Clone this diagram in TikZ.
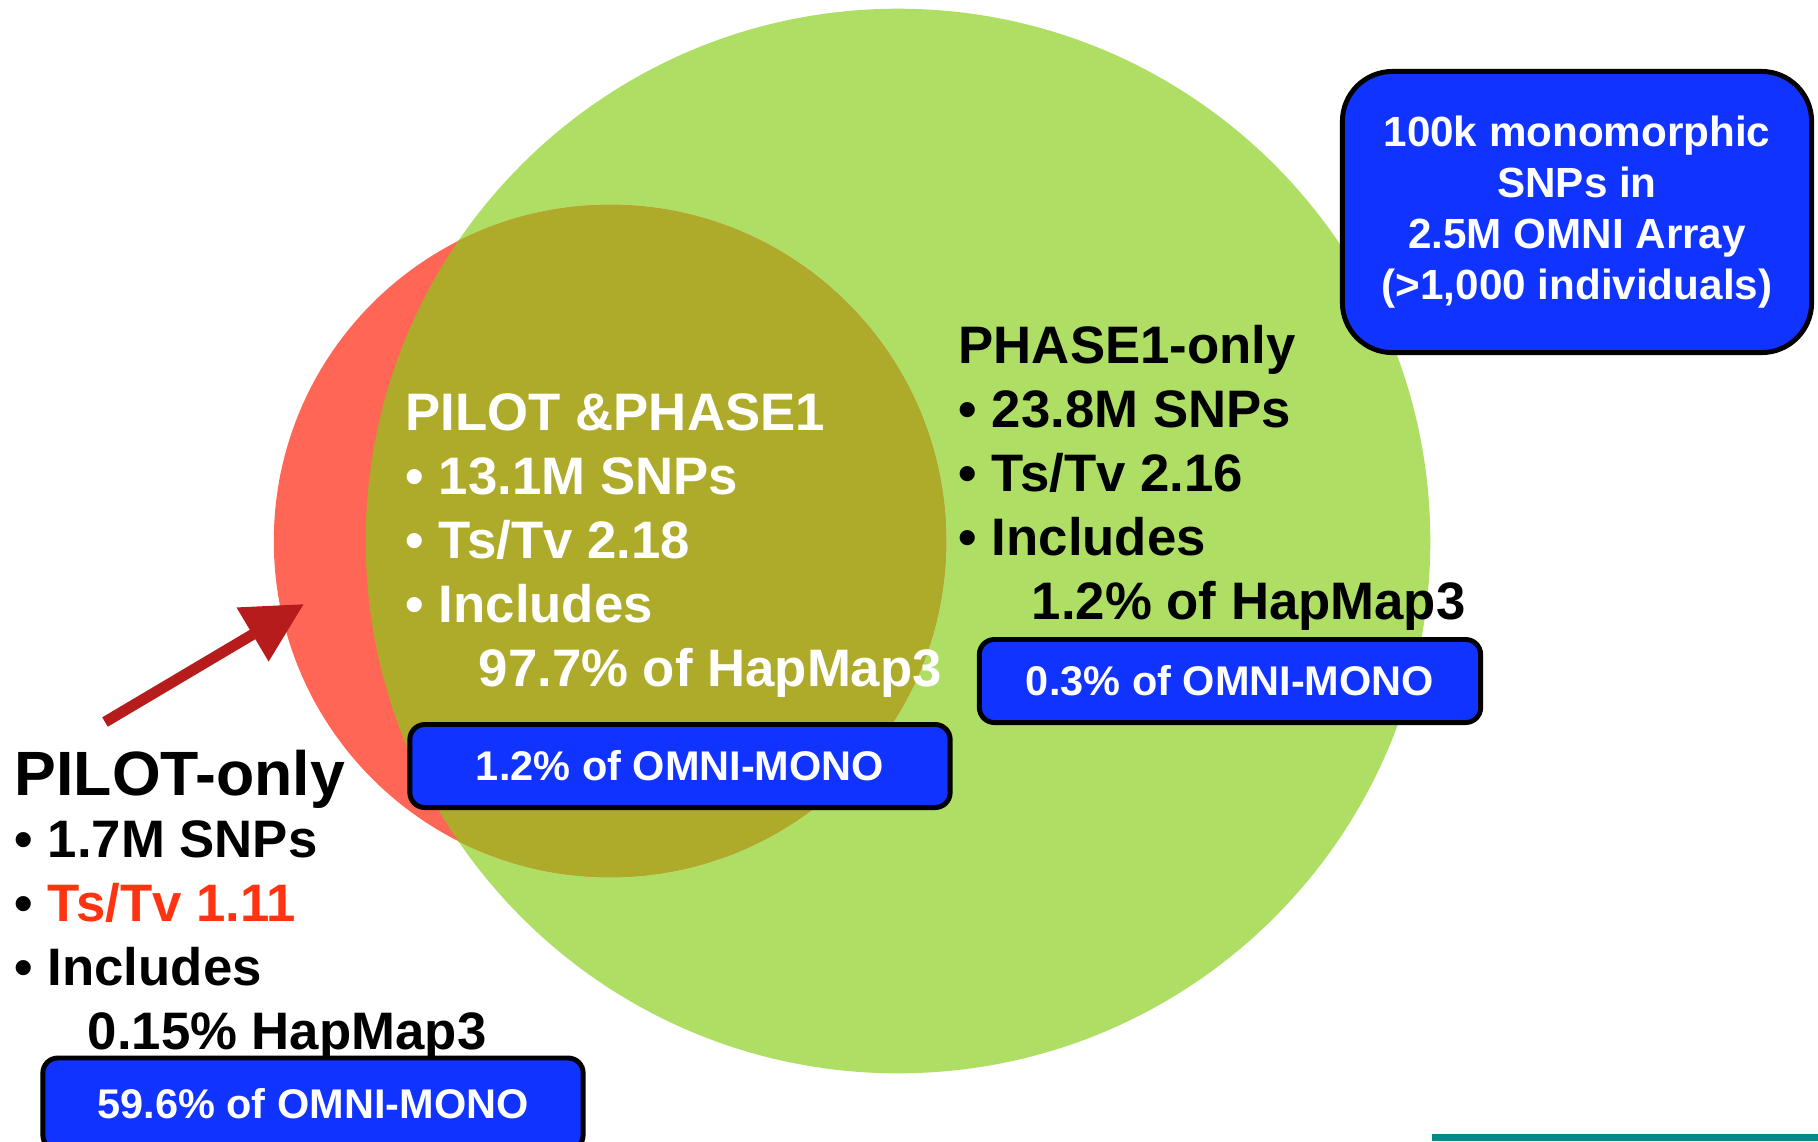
\documentclass[tikz,border=0pt]{standalone}
\usepackage{fontspec}
\setmainfont{Liberation Sans}
\usetikzlibrary{arrows.meta}
\definecolor{setgreen}{HTML}{AEDE64}
\definecolor{setred}{HTML}{FF6655}
\definecolor{setolive}{HTML}{AEAA2A}
\definecolor{omniblue}{HTML}{1133FF}
\definecolor{arrowred}{HTML}{B71C1C}
\definecolor{tsred}{HTML}{FF3311}
\definecolor{barteal}{HTML}{008B8B}

\begin{document}
\begin{tikzpicture}[
    x=0.01cm, y=-0.01cm,
    setlabel/.style={anchor=base west, inner sep=0pt, align=left,
                     font=\fontsize{15}{18.2}\selectfont\bfseries},
    monobox/.style={rectangle, draw=black, line width=1.4pt, fill=omniblue,
                    text=white, rounded corners=0.15cm, minimum width=5.4cm,
                    minimum height=0.83cm, font=\fontsize{11.8}{14}\selectfont\bfseries},
    arrow/.style={-{Triangle[length=17pt,width=17pt]}, line width=3.1pt, arrowred}
]
\useasboundingbox (0,0) rectangle (1818,1141);

% Sets
\fill[setgreen] (898,541) circle[radius=5.32cm];
\fill[setred] (610,541) circle[radius=3.36cm];
\begin{scope}
  \clip (898,541) circle[radius=5.32cm];
  \fill[setolive] (610,541) circle[radius=3.36cm];
\end{scope}

% Set labels (placed at the baseline of their last line)
\node[setlabel, text=white] (both) at (405,686) {PILOT \&PHASE1\\
    \textbullet\ 13.1M SNPs\\\textbullet\ Ts/Tv 2.18\\\textbullet\ Includes\\
    \hspace*{0.73cm}97.7\% of HapMap3};
\node[setlabel] (phase) at (958,619) {PHASE1-only\\
    \textbullet\ 23.8M SNPs\\\textbullet\ Ts/Tv 2.16\\\textbullet\ Includes\\
    \hspace*{0.73cm}1.2\% of HapMap3};
\node[anchor=base west, inner sep=0pt, font=\fontsize{17.8}{20}\selectfont\bfseries]
    (pilothead) at (14,795) {PILOT-only};
\node[setlabel] (pilot) at (14,1049) {\textbullet\ 1.7M SNPs\\
    \textbullet\ \textcolor{tsred}{Ts/Tv 1.11}\\\textbullet\ Includes\\
    \hspace*{0.73cm}0.15\% HapMap3};

% OMNI boxes
\node[monobox] (omnipp) at (680,766) {1.2\% of OMNI-MONO};
\node[monobox, minimum width=5.01cm] (omnip1) at (1230,681) {0.3\% of OMNI-MONO};
\node[monobox, minimum height=0.92cm] (omnipo) at (313,1104) {59.6\% of OMNI-MONO};
\node[monobox, minimum width=4.69cm, minimum height=2.81cm, rounded corners=0.5cm,
      align=center, font=\fontsize{12}{14.5}\selectfont\bfseries]
      (omni) at (1577,212) {100k monomorphic\\SNPs in\\2.5M OMNI Array\\(>1,000 individuals)};

% Arrow
\coordinate (tail) at (105,722);
\coordinate (tip) at (304,604);
\draw[arrow] (tail) -- (tip);

% Bar
\fill[barteal] (1432,1134) rectangle (1818,1141);

\end{tikzpicture}
\end{document}
